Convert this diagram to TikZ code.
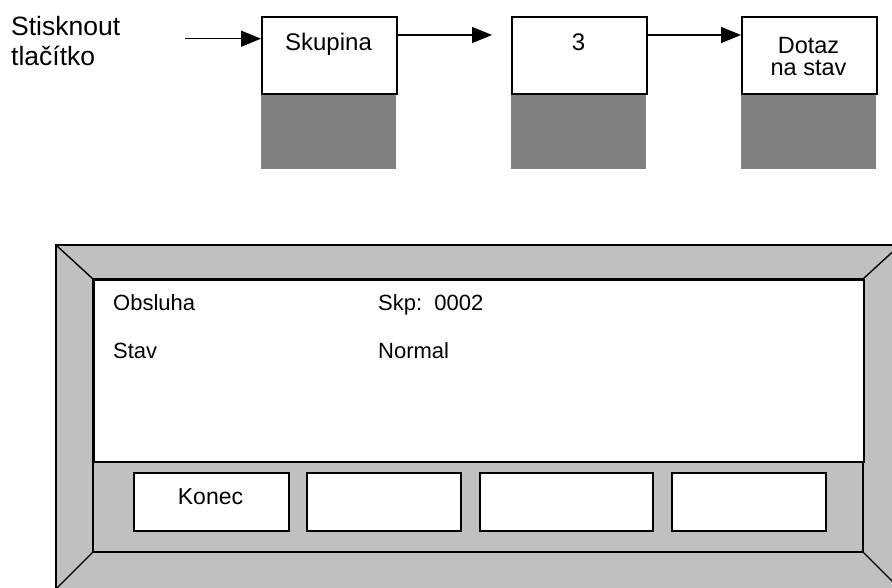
\documentclass[tikz,border=0pt]{standalone}
\usepackage{fontspec}
\setmainfont{Liberation Sans}
\usetikzlibrary{arrows.meta}
\definecolor{shadowgray}{HTML}{808080}
\definecolor{framegray}{HTML}{C0C0C0}
\begin{document}
\begin{tikzpicture}[x=1pt,y=-1pt,
  topbox/.style={draw=black, line width=1.6pt, fill=white, minimum width=135pt, minimum height=77pt, inner sep=0pt, anchor=north west},
  shadowbox/.style={fill=shadowgray, draw=none, minimum width=135pt, minimum height=76pt, inner sep=0pt, anchor=north west},
  btn/.style={draw=black, line width=1.6pt, fill=white, inner sep=0pt, anchor=north west, minimum height=58pt},
  toplbl/.style={font=\fontsize{24}{28}\selectfont, inner sep=0pt, anchor=base},
  disptxt/.style={font=\fontsize{22}{26}\selectfont, inner sep=0pt, anchor=base west},
  arr/.style={line width=1.5pt, -{Triangle[length=20pt,width=16pt]}},
  frameline/.style={draw=black, line width=1.4pt}]
\useasboundingbox (0,0) rectangle (892,587);
\clip (0,0) rectangle (892,587);

% top flow
\node[font=\fontsize{26.5}{30}\selectfont, inner sep=0pt, anchor=base west] (l1) at (11,35) {Stisknout};
\node[font=\fontsize{26.5}{30}\selectfont, inner sep=0pt, anchor=base west] (l2) at (11,65) {tlačítko};

\node[shadowbox] (s1) at (261,93) {};
\node[shadowbox] (s2) at (511,93) {};
\node[shadowbox] (s3) at (741,93) {};
\node[topbox] (b1) at (261,16) {};
\node[topbox] (b2) at (511,16) {};
\node[topbox] (b3) at (741,16) {};
\node[toplbl] (t1) at (328.5,50) {Skupina};
\node[toplbl] (t2) at (578.5,50) {3};
\node[font=\fontsize{23.5}{21.5}\selectfont, inner sep=0pt, align=center, anchor=north] (t3) at (808.5,37.5) {Dotaz\\na stav};

\coordinate (a1s) at (185,38.7);
\coordinate (a2e) at (492,35);
\draw[arr] (a1s) -- (b1.west |- a1s);
\draw[arr] (b1.east |- a2e) -- (a2e);
\draw[arr] (b2.east |- a2e) -- (b3.west |- a2e);

% display frame
\fill[framegray] (56,245) rectangle (900,589);
\draw[frameline] (56,245) rectangle (900,589);
\draw[frameline] (56,245) -- (93,279);
\draw[frameline] (900,245) -- (863,279);
\draw[frameline] (56,589) -- (93,552);
\draw[frameline] (900,589) -- (863,552);
\draw[frameline, fill=framegray] (93,279) rectangle (863,552);
\node[draw=black, line width=1.6pt, fill=white, inner sep=0pt, anchor=north west, minimum width=770pt, minimum height=182pt] (disp) at (93,279) {};

\node[disptxt] (o1) at (113,310) {Obsluha};
\node[disptxt] (o2) at (113,358) {Stav};
\node[disptxt] (o3) at (378,310) {Skp:\ \ 0002};
\node[disptxt] (o4) at (378,358) {Normal};

\node[btn, minimum width=155pt] (k1) at (133,472) {};
\node[btn, minimum width=154pt] (k2) at (306,472) {};
\node[btn, minimum width=173pt] (k3) at (479,472) {};
\node[btn, minimum width=154pt] (k4) at (671,472) {};
\node[font=\fontsize{23}{27}\selectfont, inner sep=0pt, anchor=base] (kt) at (210.5,504) {Konec};
\end{tikzpicture}
\end{document}
